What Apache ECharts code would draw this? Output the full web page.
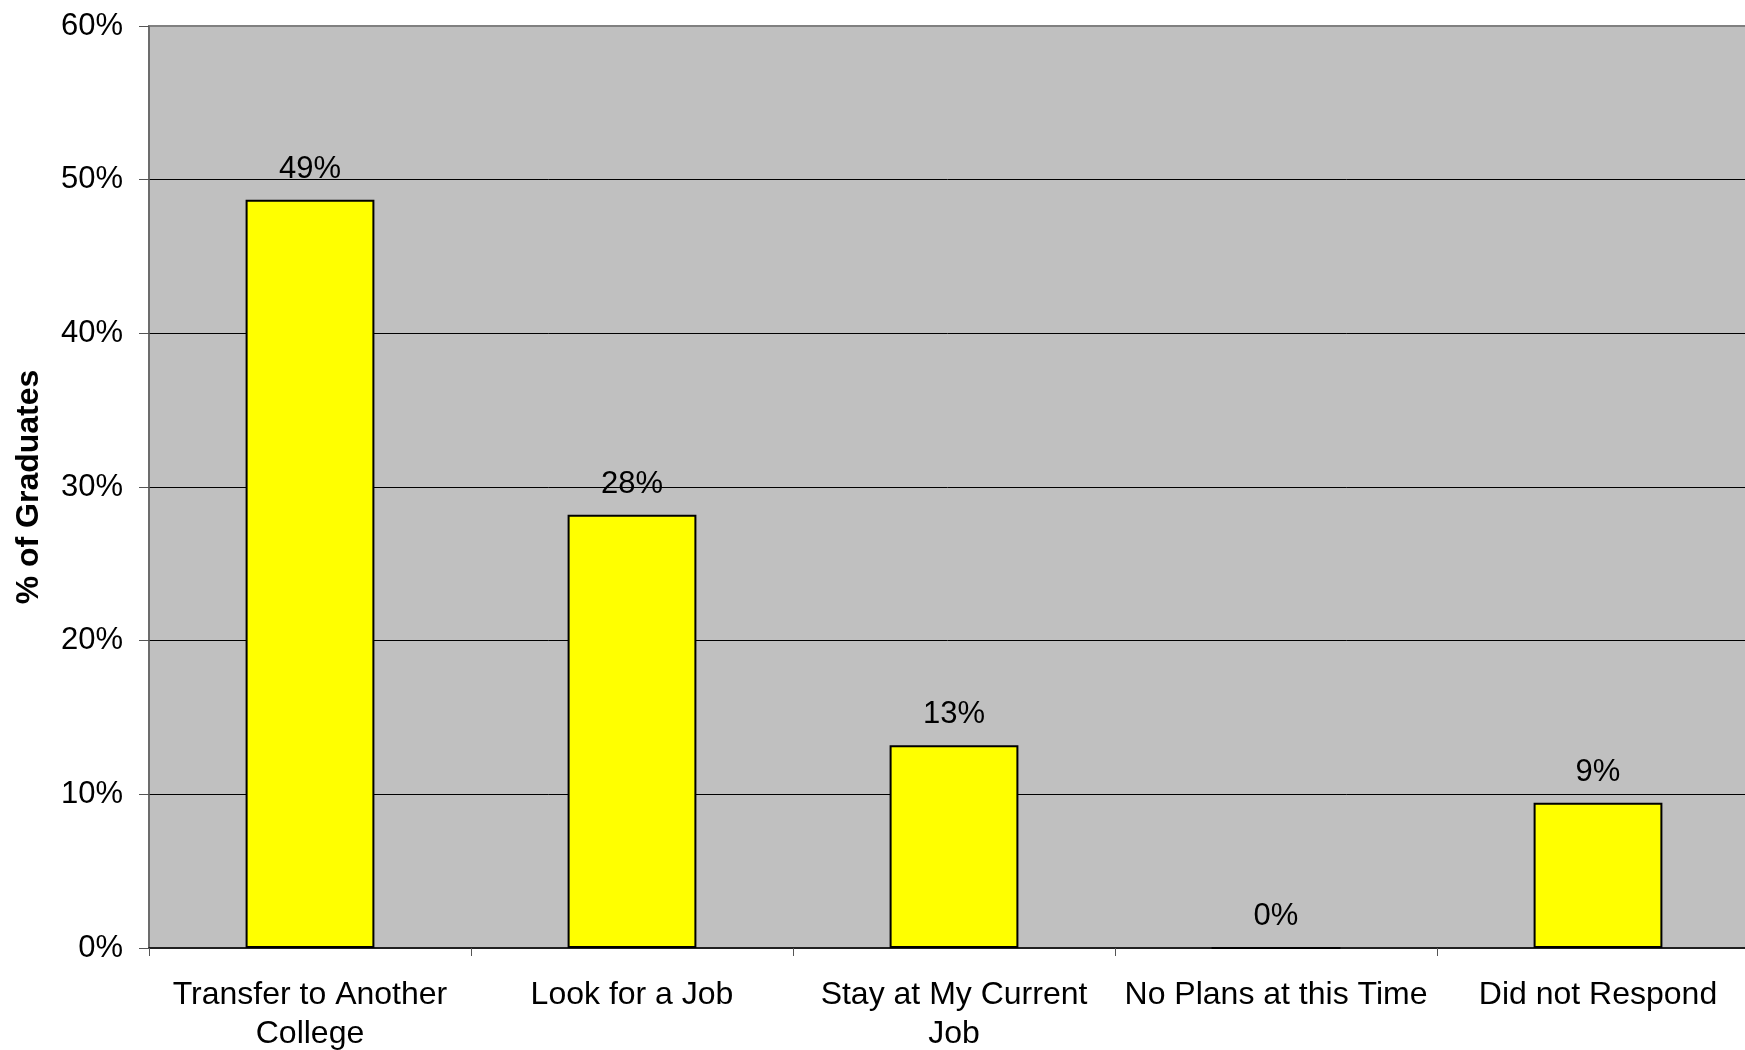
<!DOCTYPE html>
<html>
<head>
<meta charset="utf-8">
<script src="https://cdn.jsdelivr.net/npm/echarts@6/dist/echarts.min.js"></script>
<style>
html,body{margin:0;padding:0;background:#fff;}
#chart{width:1745px;height:1050px;}
</style>
</head>
<body>
<div id="chart"></div>
<script>
const categories = ["Transfer to Another\nCollege", "Look for a Job", "Stay at My Current\nJob", "No Plans at this Time", "Did not Respond"];
const values = [48.7, 28.2, 13.2, 0, 9.45];
const yTicks = { min: 0, max: 60, interval: 10 };

const chart = echarts.init(document.getElementById('chart'));
const font = '"Liberation Sans", Arial, sans-serif';
chart.setOption({
  animation: false,
  backgroundColor: '#ffffff',
  grid: {
    left: 149, top: 26, height: 922, width: 1610,
    outerBoundsMode: 'none',
    containLabel: false,
    show: true, backgroundColor: '#C0C0C0', borderColor: '#808080', borderWidth: 2
  },
  xAxis: {
    type: 'category',
    data: categories,
    axisLine: { show: true, lineStyle: { color: '#000', width: 1.5 } },
    axisTick: { show: true, length: 8, lineStyle: { color: '#555' } },
    axisLabel: { color: '#000', fontFamily: font, fontSize: 32, lineHeight: 39, margin: 28, interval: 0 }
  },
  yAxis: {
    type: 'value',
    min: yTicks.min, max: yTicks.max, interval: yTicks.interval,
    name: '% of Graduates',
    nameLocation: 'middle',
    nameGap: 104,
    nameRotate: 90,
    nameTextStyle: { color: '#000', fontFamily: font, fontSize: 32, fontWeight: 'bold' },
    axisLine: { show: true, lineStyle: { color: '#666', width: 1.5 } },
    axisTick: { show: true, length: 10, lineStyle: { color: '#555' } },
    axisLabel: { color: '#000', fontFamily: font, fontSize: 31, margin: 26, formatter: v => v + '%' },
    splitLine: { show: true, showMinLine: false, showMaxLine: false, lineStyle: { color: '#000', width: 1 } }
  },
  series: [{
    type: 'bar',
    data: values,
    barWidth: '40%',
    itemStyle: { color: '#FFFF00', borderColor: '#000', borderWidth: 2 },
    label: {
      show: true, position: 'top', distance: 15,
      color: '#000', fontFamily: font, fontSize: 31,
      formatter: p => Math.round(p.value) + '%'
    }
  }]
});
</script>
</body>
</html>
